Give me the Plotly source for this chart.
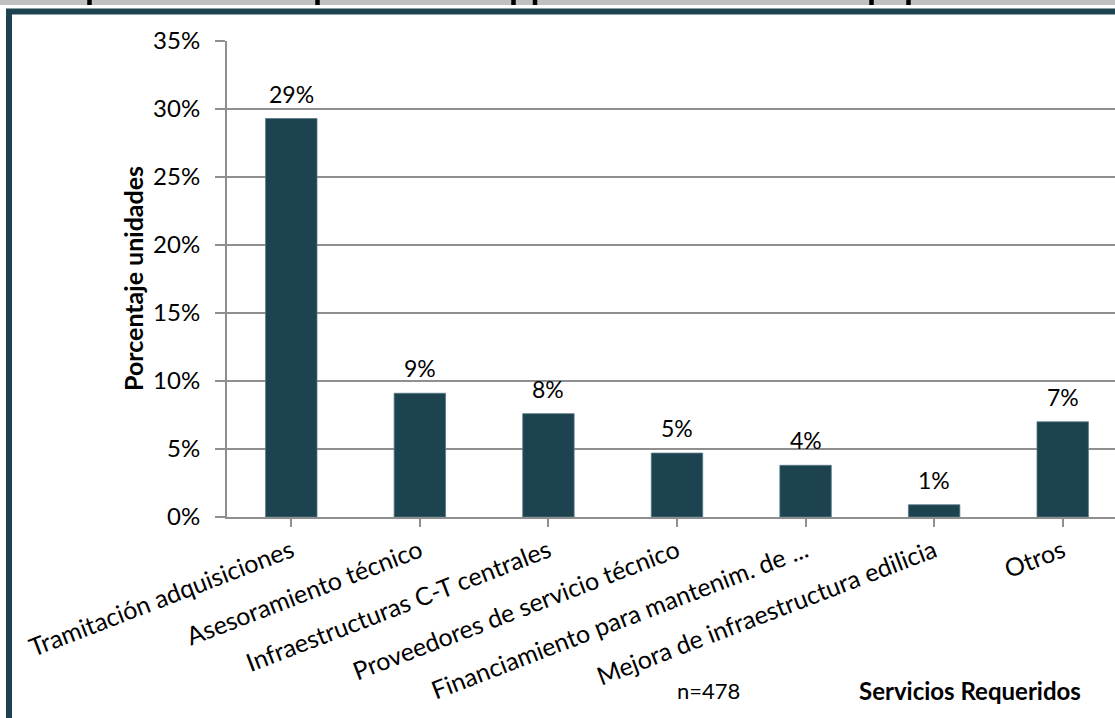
import plotly.graph_objects as go

# Service categories and share of units requesting each one
categories = [
    "Tramitación adquisiciones",
    "Asesoramiento técnico",
    "Infraestructuras C-T centrales",
    "Proveedores de servicio técnico",
    "Financiamiento para mantenim. de ...",
    "Mejora de infraestructura edilicia",
    "Otros",
]
shares = [0.293, 0.091, 0.076, 0.047, 0.038, 0.009, 0.070]
y_ticks = [0, 0.05, 0.10, 0.15, 0.20, 0.25, 0.30, 0.35]
sample_note = "n=478"
x_title = "Servicios Requeridos"
y_title = "Porcentaje unidades"

W, H = 1115, 718
L, R, T, B = 227, 0, 41, 201
PW, PH = W - L - R, H - T - B

BAR = "#1d4250"
GRID = "#8f8f8f"
FONT = "Lato"


def px_x(px):
    return (px - L) / PW


def px_y(py):
    return (H - B - py) / PH


cat_w = 128.57
x_max = -0.5 + PW / cat_w

fig = go.Figure()
fig.add_trace(go.Bar(
    x=list(range(len(categories))),
    y=shares,
    marker=dict(color=BAR, line=dict(color="#577b87", width=0.8)),
    width=0.4,
    hoverinfo="skip",
))

# value labels above each bar
annotations = []
for i, v in enumerate(shares):
    annotations.append(dict(
        x=i, y=v, xref="x", yref="y", text=f"{round(v * 100):.0f}%",
        showarrow=False, yanchor="middle", yshift=25,
        font=dict(family=FONT, size=23, color="#000000"),
    ))

annotations += [
    dict(x=px_x(133), y=0.5, xref="paper", yref="paper", text=f"<b>{y_title}</b>",
         textangle=-90, showarrow=False, xanchor="center", yanchor="middle",
         font=dict(family=FONT, size=25, color="#000000")),
    dict(x=px_x(708), y=px_y(690), xref="paper", yref="paper", text=sample_note,
         showarrow=False, xanchor="center", yanchor="middle",
         font=dict(family=FONT, size=22, color="#000000")),
    dict(x=px_x(970), y=px_y(690), xref="paper", yref="paper", text=f"<b>{x_title}</b>",
         showarrow=False, xanchor="center", yanchor="middle",
         font=dict(family=FONT, size=24, color="#000000")),
]

shapes = [
    # grey strip along the top edge
    dict(type="rect", xref="paper", yref="paper", x0=px_x(-5), x1=px_x(W + 5),
         y0=px_y(5), y1=px_y(-5), fillcolor="#c0c0c0", line=dict(width=0), layer="above"),
    # outer frame
    dict(type="rect", xref="paper", yref="paper", x0=px_x(9), x1=px_x(W + 40),
         y0=px_y(H + 40), y1=px_y(11.5), fillcolor="rgba(0,0,0,0)",
         line=dict(color="#1d4350", width=6), layer="above"),
]
# descenders of the heading that runs off the top edge
for cx in [89.5, 317.5, 513.5, 535, 871.5, 908.5]:
    shapes.append(dict(type="line", xref="paper", yref="paper",
                       x0=px_x(cx), x1=px_x(cx), y0=px_y(5), y1=px_y(-1),
                       line=dict(color="#000000", width=4.5), layer="above"))

fig.update_layout(
    width=W, height=H,
    margin=dict(l=L, r=R, t=T, b=B, pad=0),
    paper_bgcolor="#ffffff", plot_bgcolor="#ffffff",
    showlegend=False,
    bargap=0.6,
    font=dict(family=FONT, size=23, color="#000000"),
    xaxis=dict(
        range=[-0.5, x_max],
        tickmode="array", tickvals=list(range(len(categories))), ticktext=categories,
        tickson="boundaries", ticks="outside", ticklen=8, tickwidth=2, tickcolor=GRID,
        tickangle=-21, tickfont=dict(family=FONT, size=25, color="#000000"),
        showline=True, linecolor=GRID, linewidth=2,
        showgrid=False, zeroline=False, fixedrange=True,
    ),
    yaxis=dict(
        range=[0, 0.35], tickmode="array", tickvals=y_ticks, tickformat=".0%",
        ticks="outside", ticklen=10, tickwidth=2, tickcolor=GRID,
        ticklabelstandoff=10,
        tickfont=dict(family=FONT, size=24, color="#000000"),
        showline=True, linecolor=GRID, linewidth=2,
        showgrid=True, gridcolor=GRID, gridwidth=2, zeroline=False, fixedrange=True,
    ),
    annotations=annotations,
    shapes=shapes,
)

fig.write_html("out.html", config={"displayModeBar": False})
